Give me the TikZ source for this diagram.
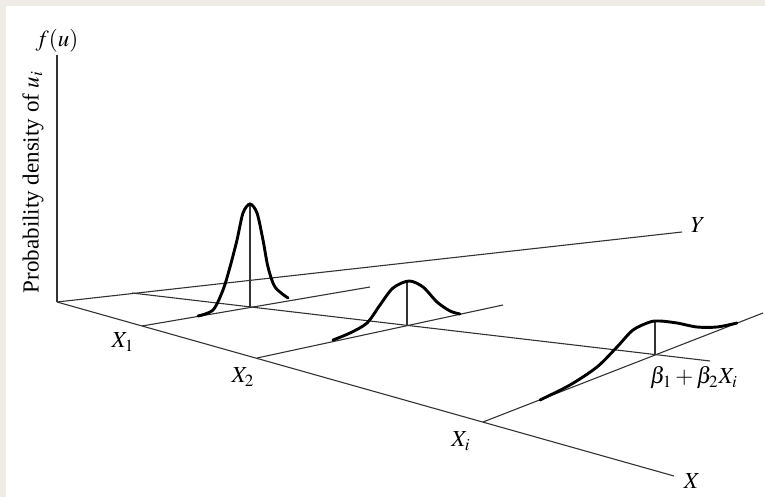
\documentclass[tikz,border=0pt]{standalone}
\usepackage{mathptmx}
\usepackage[no-math]{fontspec}
\setmainfont{Liberation Serif}
\usepackage{tikz}
\usetikzlibrary{positioning,calc}
\definecolor{paneGray}{RGB}{239,236,232}
\colorlet{axisGray}{black!80}

\begin{document}
\begin{tikzpicture}[x=0.5pt, y=-0.5pt,
        every node/.style={font=\fontsize{11.5}{13}\selectfont, inner sep=0pt},
        axis/.style={axisGray, line width=0.55pt},
        density/.style={black, line width=1.45pt, line cap=round}]
        \useasboundingbox (0,0) rectangle (765,497);
        \fill[paneGray] (0,0) rectangle (765,497);
        \fill[white] (6,6) rectangle (765,497);

        \coordinate (O) at (57,302);
        \coordinate (ftop) at (57,55);
        \coordinate (yend) at (682,232);
        \coordinate (xend) at (674,476);
        \coordinate (b0) at (132,293);
        \coordinate (rend) at (710,361);
        \coordinate (xa) at (142,326);
        \coordinate (xaend) at (370,287);
        \coordinate (xb) at (257,358);
        \coordinate (xbend) at (503,305);
        \coordinate (xi) at (483,422);
        \coordinate (xiend) at (763,313);
        \coordinate (pa) at (250,307);
        \coordinate (pb) at (407,326);
        \coordinate (pi) at (655,355);

        \draw[axis] (O) -- (ftop);
        \draw[axis] (O) -- (yend);
        \draw[axis] (O) -- (xend);
        \draw[axis] (b0) -- (rend);
        \draw[axis] (xa) -- (xaend);
        \draw[axis] (xb) -- (xbend);
        \draw[axis] (xi) -- (xiend);
        \draw[axis] (pa) -- ++(0,-103);
        \draw[axis] (pb) -- ++(0,-45);
        \draw[axis] (pi) -- ++(0,-33);

        \draw[density] plot[smooth] coordinates {(198,316) (213,310) (223,290) (230,267) (237,240)
            (243,213) (250,204) (257,213) (263,240) (268,267) (275,287) (288,298)};
        \draw[density] plot[smooth] coordinates {(333,340) (350,333) (367,323) (380,305) (393,288)
            (409,281) (423,287) (437,302) (450,311) (460,314)};
        \draw[density] plot[smooth] coordinates {(540,400) (570,385) (597,367) (617,347) (633,330)
            (650,322) (660,321) (677,323) (697,327) (717,327) (737,323)};

        \node (fu) at (57,41) {$f(u)$};
        \node[rotate=90] (ylab) at (33,182) {Probability density of $u_i$};
        \node (ylabel) at (698,225) {$Y$};
        \node (xlabel) at (692,481) {$X$};
        \node (xalab) at (123,342) {$X_1$};
        \node (xblab) at (243,377) {$X_2$};
        \node (xilab) at (461,441) {$X_i$};
        \node (reglab) at (694,378) {$\beta_1 \mathbin{+} \beta_2 X_i$};
    \end{tikzpicture}
\end{document}
